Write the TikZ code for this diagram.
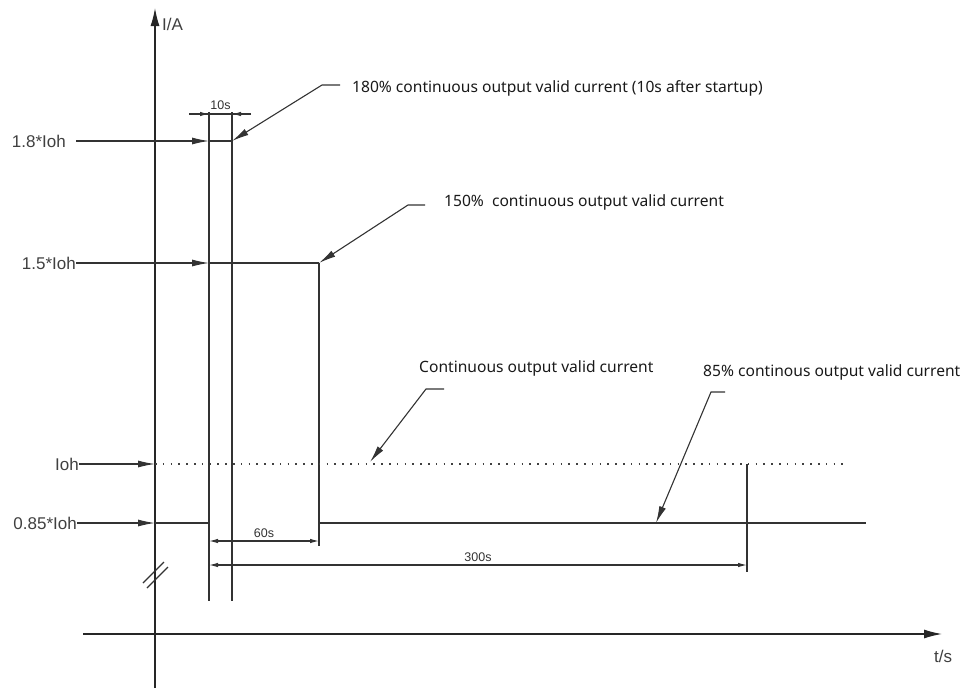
\documentclass[tikz,border=0pt]{standalone}
\usepackage{fontspec}
\setmainfont{Liberation Sans}
\newfontfamily\callfont{Noto Sans}
\usetikzlibrary{arrows.meta}
\begin{document}
\begin{tikzpicture}[x=1pt,y=-1pt,
  ln/.style={line width=1.3pt,draw=black!85},
  thin/.style={line width=1.1pt,draw=black!80},
  midarr/.style={-{Latex[length=17pt,width=7pt]}},
  callarr/.style={{Latex[length=17pt,width=7pt]}-},
  dimarr/.style={{Latex[length=9pt,width=4.5pt]}-{Latex[length=9pt,width=4.5pt]}},
  lvl/.style={font=\fontsize{17}{19}\selectfont,text=black!75,inner sep=0pt},
  dimtxt/.style={font=\fontsize{12.5}{14}\selectfont,text=black!80,inner sep=0pt},
  call/.style={font=\callfont\fontsize{15.6}{18}\selectfont,text=black!90,inner sep=0pt,anchor=west}]
\useasboundingbox (0,0) rectangle (963,688);
% axes
\coordinate (ybot) at (155,688);
\coordinate (ytop) at (155,8);
\coordinate (xl) at (83,634);
\coordinate (xr) at (942,634);
\draw[ln,-{Latex[length=18pt,width=9pt]}] (ybot) -- (ytop);
\draw[ln,-{Latex[length=18pt,width=9pt]}] (xl) -- (xr);
\node[lvl,anchor=west] (ia) at (162,24) {I/A};
\node[lvl,anchor=west] (ts) at (934,656) {t/s};
% break mark
\coordinate (b1a) at (143,583); \coordinate (b1b) at (164,562);
\coordinate (b2a) at (147,588); \coordinate (b2b) at (168,567);
\draw[thin] (b1a) -- (b1b);
\draw[thin] (b2a) -- (b2b);
% level labels
\node[lvl,anchor=east] (l18) at (66,141) {1.8*Ioh};
\node[lvl,anchor=east] (l15) at (76,263) {1.5*Ioh};
\node[lvl,anchor=east] (l10) at (79,464) {Ioh};
\node[lvl,anchor=east] (l85) at (77,523) {0.85*Ioh};
% vertical lines
\coordinate (v1t) at (209,112); \coordinate (v1b) at (209,601);
\coordinate (v2t) at (232,112); \coordinate (v2b) at (232,601);
\coordinate (v3t) at (319,263); \coordinate (v3b) at (319,546);
\coordinate (v4t) at (747,464); \coordinate (v4b) at (747,572);
\draw[thin] (v1t) -- (v1b);
\draw[thin] (v2t) -- (v2b);
\draw[thin] (v3t) -- (v3b);
\draw[thin] (v4t) -- (v4b);
% 1.8 level
\coordinate (a18s) at (76,141); \coordinate (a18t) at (209,141); \coordinate (a18e) at (232,141);
\draw[thin,midarr] (a18s) -- (a18t);
\draw[thin] (a18t) -- (a18e);
% 1.5 level
\coordinate (a15s) at (76,263); \coordinate (a15t) at (209,263); \coordinate (a15e) at (319,263);
\draw[thin,midarr] (a15s) -- (a15t);
\draw[thin] (a15t) -- (a15e);
% Ioh level
\coordinate (a10s) at (79,464); \coordinate (a10t) at (155,464); \coordinate (a10e) at (849,464);
\draw[thin,midarr] (a10s) -- (a10t);
\draw[line width=1.2pt,draw=black!75,dash pattern=on 1.6pt off 6.2pt] (a10t) -- (a10e);
% 0.85 level
\coordinate (a85s) at (77,523); \coordinate (a85t) at (155,523);
\coordinate (a85m) at (209,523); \coordinate (a85n) at (319,523); \coordinate (a85e) at (866,523);
\draw[thin,midarr] (a85s) -- (a85t);
\draw[thin] (a85t) -- (a85m);
\draw[thin] (a85n) -- (a85e);
% 10s dimension
\coordinate (d10l) at (189,114); \coordinate (d10r) at (251,114);
\coordinate (d10a) at (209,114); \coordinate (d10b) at (232,114);
\draw[thin] (d10l) -- (d10r);
\draw[thin,-{Latex[length=9pt,width=4.5pt]}] (d10l) -- (d10a);
\draw[thin,-{Latex[length=9pt,width=4.5pt]}] (d10r) -- (d10b);
\node[dimtxt] (t10) at (220.5,105) {10s};
% 60s dimension
\coordinate (d60l) at (209,541); \coordinate (d60r) at (319,541);
\draw[thin,dimarr] (d60l) -- (d60r);
\node[dimtxt] (t60) at (264,533) {60s};
% 300s dimension
\coordinate (d300l) at (209,565); \coordinate (d300r) at (747,565);
\draw[thin,dimarr] (d300l) -- (d300r);
\node[dimtxt] (t300) at (478,557) {300s};
% callouts
\node[call] (c180) at (352,88) {180\% continuous output valid current (10s after startup)};
\coordinate (k180a) at (322,85); \coordinate (k180b) at (340,85);
\draw[thin,callarr] (a18e) -- (k180a) -- (k180b);
\node[call] (c150) at (444,202) {150\%\ \ continuous output valid current};
\coordinate (k150a) at (408,205); \coordinate (k150b) at (425,205);
\draw[thin,callarr] (a15e) -- (k150a) -- (k150b);
\node[call] (cc) at (419,368) {Continuous output valid current};
\coordinate (kct) at (370,462); \coordinate (kca) at (426,389); \coordinate (kcb) at (444,389);
\draw[thin,callarr] (kct) -- (kca) -- (kcb);
\node[call] (c85) at (703,372) {85\% continous output valid current};
\coordinate (k85t) at (656,523); \coordinate (k85a) at (711,392); \coordinate (k85b) at (725,392);
\draw[thin,callarr] (k85t) -- (k85a) -- (k85b);
\end{tikzpicture}
\end{document}
